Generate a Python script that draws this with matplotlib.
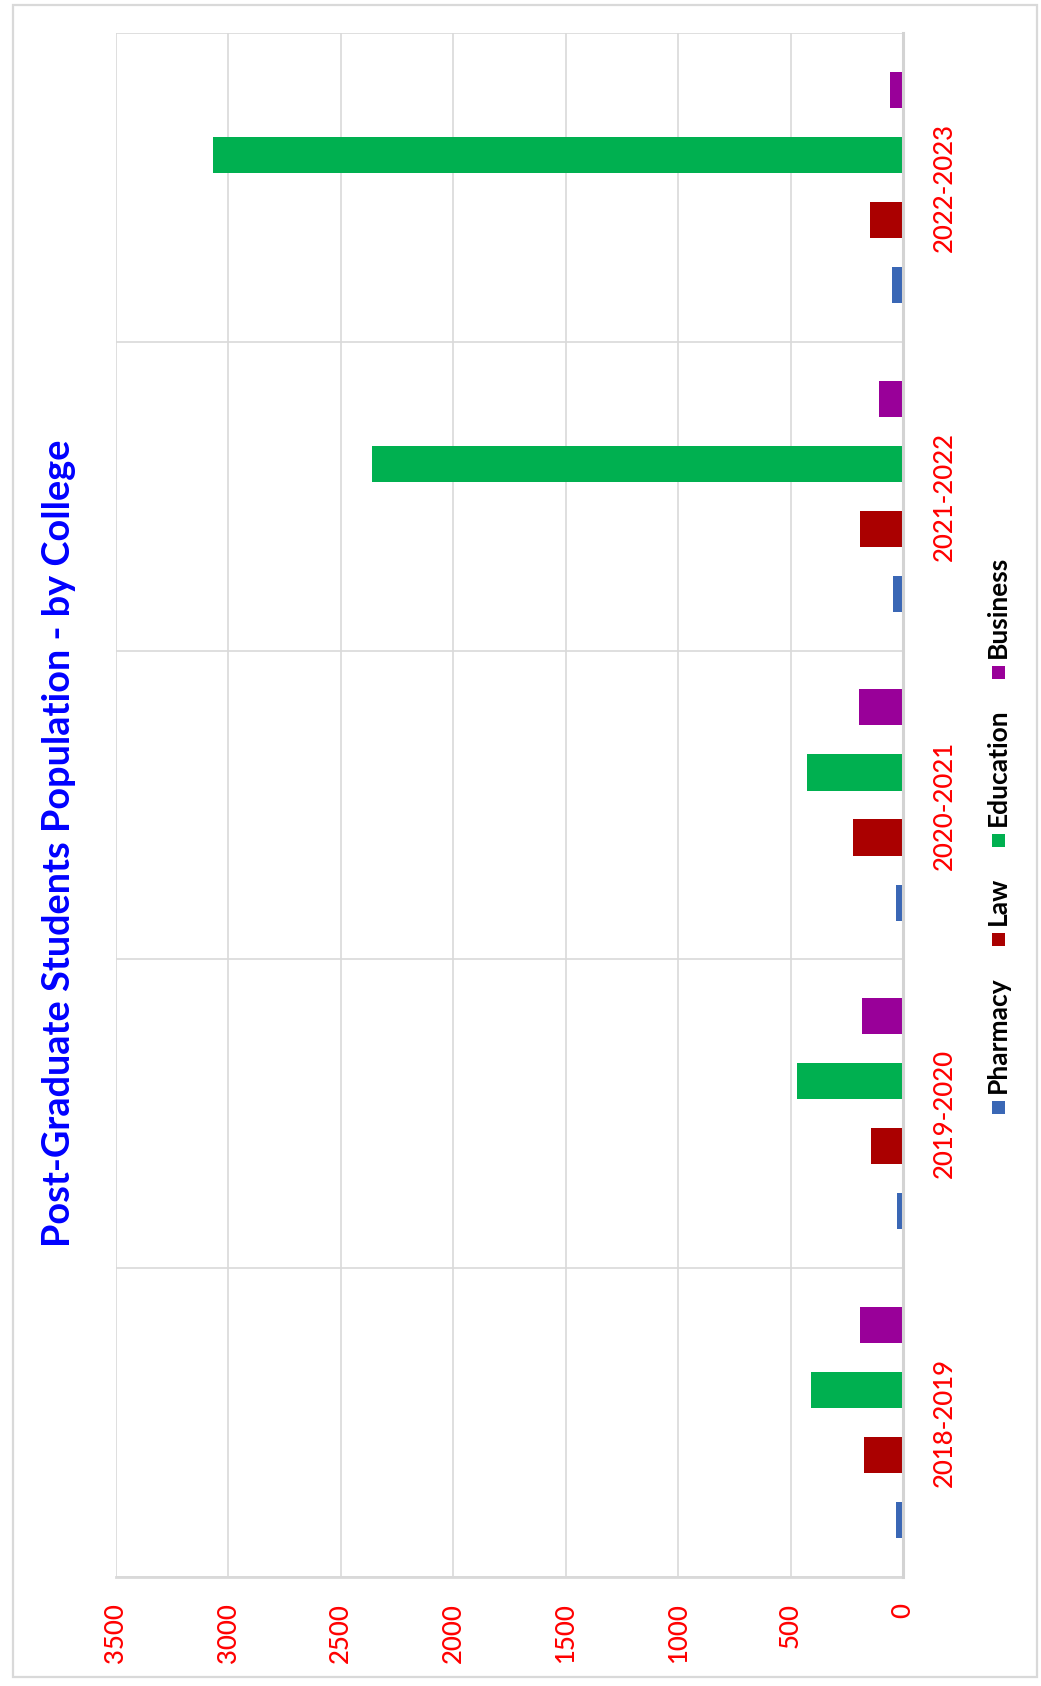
import matplotlib
matplotlib.use('Agg')
import matplotlib.pyplot as plt
import numpy as np
from matplotlib.patches import Rectangle

# ---- data ----
years = ['2018-2019', '2019-2020', '2020-2021', '2021-2022', '2022-2023']
colleges = ['Pharmacy', 'Law', 'Education', 'Business']
pharmacy = [31, 25, 31, 43, 48]
law = [175, 141, 221, 191, 145]
education = [409, 473, 426, 2362, 3070]
business = [193, 181, 197, 105, 59]
value_ticks = [0, 500, 1000, 1500, 2000, 2500, 3000, 3500]
title = 'Post-Graduate Students Population - by College'

series = [pharmacy, law, education, business]
colors = ['#3A67B5', '#AA0000', '#00B050', '#990099']

FONT = ['Lato', 'DejaVu Sans']
W, H = 1041, 1686
fig = plt.figure(figsize=(W / 100, H / 100), dpi=100)
fig.patch.set_facecolor('white')

# outer chart border
fig.add_artist(Rectangle((13 / W, 1 - 1677 / H), (1037 - 13) / W, (1677 - 5) / H,
                         transform=fig.transFigure, fill=False,
                         edgecolor='#D9D9D9', lw=1.6))

L, R, T, B = 116, 903, 33, 1577
ax = fig.add_axes([L / W, 1 - B / H, (R - L) / W, (B - T) / H])
ax.set_facecolor('white')

ys = np.arange(len(years))
step, th = 0.2105, 0.1166
for i, (vals, c) in enumerate(zip(series, colors)):
    ax.barh(ys + (i - 1.5) * step, vals, height=th, color=c, zorder=3,
            label=colleges[i])

ax.set_xlim(3500, 0)
ax.set_ylim(-0.5, len(years) - 0.5)

ax.set_xticks(value_ticks)
ax.set_xticklabels([str(t) for t in value_ticks], rotation=90, color='red',
                   fontsize=18.5, family=FONT, fontweight=500)
ax.tick_params(axis='x', length=0, pad=19)

ax.yaxis.tick_right()
ax.set_yticks(ys)
ax.set_yticklabels(years, rotation=90, va='center', ha='left', color='red',
                   fontsize=18.5, family=FONT, fontweight=500)
ax.tick_params(axis='y', which='major', length=0, pad=21)
ax.set_yticks(np.arange(-0.5, len(years), 1.0), minor=True)
ax.tick_params(axis='y', which='minor', length=0)

ax.grid(axis='x', which='major', color='#D9D9D9', lw=1.2, zorder=0)
ax.grid(axis='y', which='minor', color='#D9D9D9', lw=1.2, zorder=0)
for s in ax.spines.values():
    s.set_visible(False)
ax.axvline(0, color='#D3D3D3', lw=2.2, zorder=4, clip_on=False)
ax.axhline(-0.5, color='#D9D9D9', lw=2.0, zorder=1, clip_on=False)

# title
fig.canvas.draw()
renderer = fig.canvas.get_renderer()
t = fig.text(59 / W, 1 - 843 / H, title, rotation=90, ha='center', va='center',
             color='#0000FF', fontsize=24, fontweight='bold', family=FONT)
ext = t.get_window_extent(renderer)
t.set_fontsize(24 * 810 / ext.height)

# legend (manual, rotated)
lx = 998
y_cur = 1114  # bottom of first square (pixels from top)
sq = 13
for name, c in zip(colleges, colors):
    fig.add_artist(Rectangle(((lx - sq / 2) / W, 1 - y_cur / H), sq / W, sq / H,
                             transform=fig.transFigure, facecolor=c,
                             edgecolor='none'))
    y_text = y_cur - sq - 8
    tx = fig.text(lx / W, 1 - y_text / H, name, rotation=90, ha='center',
                  va='bottom', color='black', fontsize=19, fontweight='bold',
                  family=FONT)
    e = tx.get_window_extent(renderer)
    y_cur = y_text - e.height - 30

fig.savefig('out.png', dpi=100, facecolor='white')
